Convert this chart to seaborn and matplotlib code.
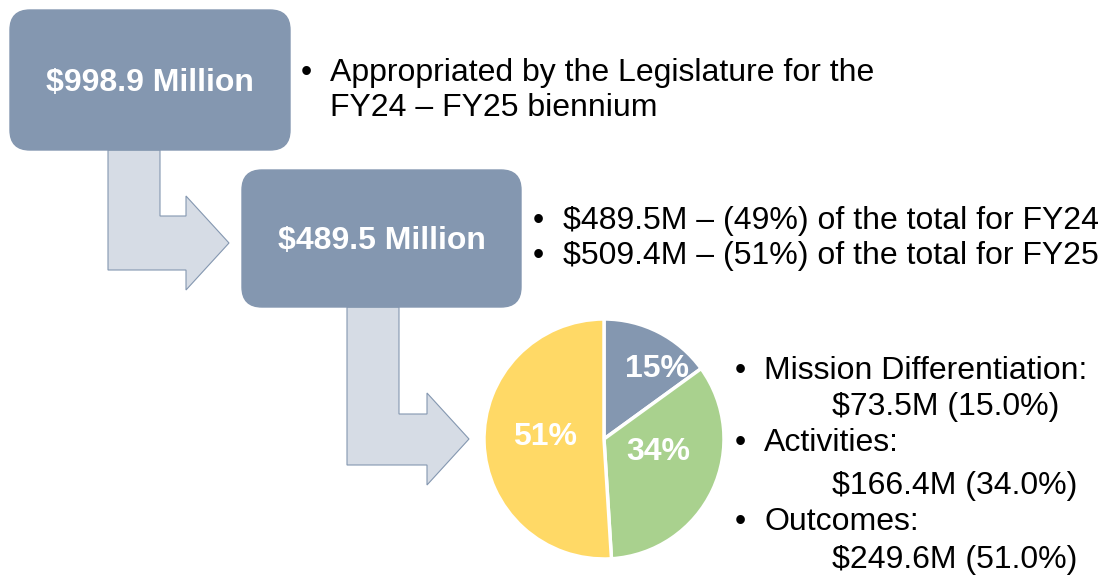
import numpy as np
import matplotlib
matplotlib.use('Agg')
import matplotlib.pyplot as plt
import seaborn as sns
from matplotlib.patches import FancyBboxPatch, Polygon

sns.set_theme(style='white')
plt.rcParams['font.family'] = ['Liberation Sans', 'DejaVu Sans']
plt.rcParams['text.color'] = 'black'

# data
box_titles = ['$998.9 Million', '$489.5 Million']
top_notes = ['Appropriated by the Legislature for the', 'FY24 \u2013 FY25 biennium']
year_notes = ['$489.5M \u2013 (49%) of the total for FY24',
              '$509.4M \u2013 (51%) of the total for FY25']
pie_labels = ['Mission Differentiation', 'Activities', 'Outcomes']
pie_values = [73.5, 166.4, 249.6]
pie_colors = ['#8497B0', '#A9D18E', '#FFD966']

box_color = '#8497B0'
arrow_fill = '#D6DCE5'
arrow_edge = '#8497B0'
fs = 23

fig = plt.figure(figsize=(11.04, 5.75), dpi=100)
ax = fig.add_axes([0, 0, 1, 1])
ax.set_xlim(0, 1104)
ax.set_ylim(575, 0)
ax.axis('off')

# bent arrows (drawn under the boxes)
arrows = [
    [(108, 150), (160, 150), (160, 216), (186, 216), (186, 196), (229, 243),
     (186, 290), (186, 270), (108, 270)],
    [(347, 307), (399, 307), (399, 414), (427, 414), (427, 393), (469, 439),
     (427, 485), (427, 465), (347, 465)],
]
for pts in arrows:
    ax.add_patch(Polygon(pts, closed=True, facecolor=arrow_fill,
                         edgecolor=arrow_edge, linewidth=0.8, zorder=1))

# rounded boxes
boxes = [(10, 10, 280, 140), (242, 170, 279, 137)]
for (x, y, w, h), title in zip(boxes, box_titles):
    ax.add_patch(FancyBboxPatch((x, y), w, h,
                                boxstyle='round,pad=0,rounding_size=20',
                                facecolor=box_color, edgecolor=box_color,
                                linewidth=1, zorder=2))
    ax.text(x + w / 2, y + h / 2 + 11, title, ha='center', va='baseline',
            color='white', fontsize=fs, fontweight='bold', zorder=3)

def bullet_lines(bx, tx, lines, ys, bullets):
    for line, y, b in zip(lines, ys, bullets):
        if b:
            ax.text(bx, y + 11, '\u2022', ha='left', va='baseline',
                    color='black', fontsize=fs)
        ax.text(tx, y + 11, line, ha='left', va='baseline',
                color='black', fontsize=fs)

bullet_lines(301, 330, top_notes, [70, 105], [True, False])
bullet_lines(533, 563, year_notes, [218, 253], [True, True])

total = sum(pie_values)
pie_lines = []
for name, v in zip(pie_labels, pie_values):
    pie_lines.append(name + ':')
    pie_lines.append(f'${v:.1f}M ({v / total * 100:.1f}%)')
ys = [368, 404, 440, 483, 519, 557]
for i, (line, y) in enumerate(zip(pie_lines, ys)):
    if i % 2 == 0:
        ax.text(735, y + 11, '\u2022', ha='left', va='baseline', color='black', fontsize=fs)
        ax.text(764, y + 11, line, ha='left', va='baseline', color='black', fontsize=fs)
    else:
        ax.text(832, y + 11, line, ha='left', va='baseline', color='black', fontsize=fs)

# pie
cx, cy, r = 604, 439, 120
pax = fig.add_axes([(cx - r) / 1104, (575 - cy - r) / 575, 2 * r / 1104, 2 * r / 575])
wedges, texts, autotexts = pax.pie(
    pie_values, colors=pie_colors, startangle=90, counterclock=False,
    autopct='%.0f%%', wedgeprops=dict(edgecolor='white', linewidth=2.5),
    textprops=dict(color='white', fontsize=fs, fontweight='bold'))
label_pos = [(0.44, 0.58), (0.45, -0.11), (-0.49, 0.02)]
for t, p in zip(autotexts, label_pos):
    t.set_position(p)
for w in wedges:
    w.set_clip_on(False)
pax.set_xlim(-1, 1)
pax.set_ylim(-1, 1)
pax.axis('off')

fig.savefig('out.png', dpi=100)
